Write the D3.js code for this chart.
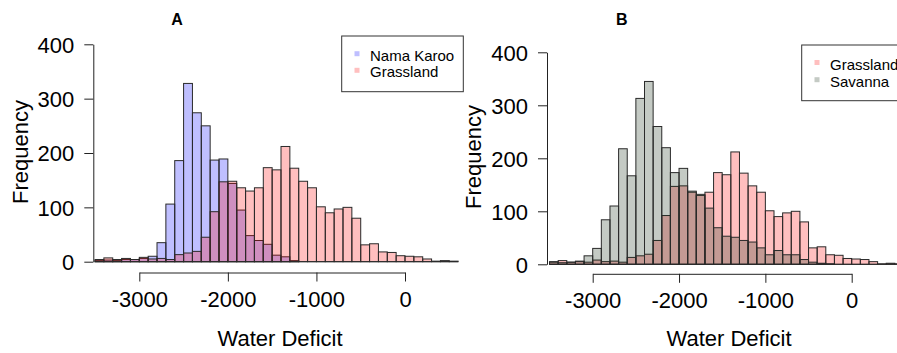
<!DOCTYPE html>
<html>
<head>
<meta charset="utf-8">
<script src="https://cdn.jsdelivr.net/npm/d3@7/dist/d3.min.js"></script>
<style>
  body { margin: 0; background: #fff; }
  svg { display: block; font-family: "Liberation Sans", Arial, Helvetica, sans-serif; }
</style>
</head>
<body>
<div id="chart"></div>
<script>
// histogram bin left edges (bin width 100)
const binStarts = [-3500, -3400, -3300, -3200, -3100, -3000, -2900, -2800, -2700, -2600,
  -2500, -2400, -2300, -2200, -2100, -2000, -1900, -1800, -1700, -1600,
  -1500, -1400, -1300, -1200, -1100, -1000, -900, -800, -700, -600,
  -500, -400, -300, -200, -100, 0, 100, 200, 300, 400, 500];
const binWidth = 100;

const grassland = [4, 7, 4, 6, 4, 8, 5, 6, 4, 13,
  16, 19, 45, 92, 147, 148, 136, 130, 136, 173,
  169, 212, 172, 148, 136, 101, 90, 97, 100, 80,
  31, 33, 18, 17, 11, 10, 9, 5, 1, 2, 1];

const namaKaroo = [2, 3, 2, 4, 4, 6, 10, 35, 106, 186,
  328, 274, 250, 187, 189, 144, 95, 48, 39, 32,
  12, 9, 2, 0, 0, 0, 0, 0, 0, 0,
  0, 0, 0, 0, 0, 0, 0, 0, 0, 0, 0];

const savanna = [5, 3, 4, 5, 16, 30, 84, 110, 218, 167,
  313, 345, 260, 220, 173, 181, 138, 132, 106, 69,
  53, 51, 45, 42, 31, 18, 26, 18, 18, 9,
  4, 2, 1, 0, 0, 0, 0, 0, 0, 0, 0];

const xTicks = [-3000, -2000, -1000, 0];
const yTicks = [0, 100, 200, 300, 400];

const colors = {
  'Nama Karoo': 'rgba(0,0,255,0.25)',
  'Grassland': 'rgba(255,0,0,0.25)',
  'Savanna': 'rgba(20,45,20,0.25)'
};

const panels = [
  {
    title: 'A', series: [['Nama Karoo', namaKaroo], ['Grassland', grassland]],
    x0: 139.3, x1: 405, yBase: 261.7, yTop: 44.3, yAxisX: 93.3, xAxisY: 272.5,
    titlePos: [177, 25], legend: { x: 341.7, y: 36, w: 121.6, h: 55.7, sq: 357, tx: 370, rows: [60.7, 77.3] },
    xlab: [280, 346], ylab: [27.5, 152]
  },
  {
    title: 'B', series: [['Grassland', grassland], ['Savanna', savanna]],
    x0: 592.7, x1: 851.7, yBase: 264.3, yTop: 52.3, yAxisX: 547, xAxisY: 273.8,
    titlePos: [621.7, 25], legend: { x: 801.7, y: 45, w: 130, h: 55.7, sq: 817, tx: 830, rows: [69.5, 86.7] },
    xlab: [729, 346], ylab: [481, 157]
  }
];

const width = 897, height = 353;
const svg = d3.select('#chart').append('svg')
  .attr('width', width)
  .attr('height', height);

panels.forEach(p => {
  const g = svg.append('g');

  const x = d3.scaleLinear().domain([-3000, 0]).range([p.x0, p.x1]);
  const y = d3.scaleLinear().domain([0, 400]).range([p.yBase, p.yTop]);

  // bars, second series drawn on top
  p.series.forEach(([name, values]) => {
    g.append('g').selectAll('rect')
      .data(values)
      .enter()
      .append('rect')
      .attr('x', (d, i) => x(binStarts[i]))
      .attr('y', d => y(d))
      .attr('width', (d, i) => x(binStarts[i] + binWidth) - x(binStarts[i]))
      .attr('height', d => y(0) - y(d))
      .attr('fill', colors[name])
      .attr('stroke', '#2a2a2a')
      .attr('stroke-width', 1);
  });

  // baseline under zero-height bins
  g.append('line')
    .attr('x1', x(binStarts[0]))
    .attr('x2', x(binStarts[binStarts.length - 1] + binWidth))
    .attr('y1', y(0)).attr('y2', y(0))
    .attr('stroke', '#2a2a2a');

  // axes
  const yAxis = g.append('g')
    .attr('transform', `translate(${p.yAxisX},0)`)
    .call(d3.axisLeft(y).tickValues(yTicks).tickSize(9).tickSizeOuter(0).tickPadding(10));

  const xAxis = g.append('g')
    .attr('transform', `translate(0,${p.xAxisY})`)
    .call(d3.axisBottom(x).tickValues(xTicks).tickSize(9).tickSizeOuter(0).tickPadding(9.5)
      .tickFormat(d => String(d)));

  [xAxis, yAxis].forEach(a => {
    a.selectAll('path, line').attr('stroke', '#222');
    a.selectAll('text')
      .attr('fill', '#000')
      .style('font-size', '22px')
      .style('font-family', '"Liberation Sans", Arial, sans-serif');
  });
  yAxis.selectAll('text').attr('dy', '0.36em');

  // labels
  g.append('text')
    .attr('x', p.titlePos[0]).attr('y', p.titlePos[1])
    .attr('text-anchor', 'middle')
    .style('font-weight', 'bold')
    .style('font-size', '16px')
    .text(p.title);

  g.append('text')
    .attr('x', p.xlab[0]).attr('y', p.xlab[1])
    .attr('text-anchor', 'middle')
    .style('font-size', '22px')
    .text('Water Deficit');

  g.append('text')
    .attr('transform', `translate(${p.ylab[0]},${p.ylab[1]}) rotate(-90)`)
    .attr('text-anchor', 'middle')
    .style('font-size', '22px')
    .text('Frequency');

  // legend
  const L = p.legend;
  g.append('rect')
    .attr('x', L.x).attr('y', L.y)
    .attr('width', L.w).attr('height', L.h)
    .attr('fill', 'none')
    .attr('stroke', '#333');

  p.series.forEach(([name], i) => {
    g.append('rect')
      .attr('x', L.sq - 2.5).attr('y', L.rows[i] - 9.5)
      .attr('width', 5).attr('height', 5)
      .attr('fill', colors[name]);
    g.append('text')
      .attr('x', L.tx).attr('y', L.rows[i])
      .style('font-size', '15px')
      .text(name);
  });
});
</script>
</body>
</html>
